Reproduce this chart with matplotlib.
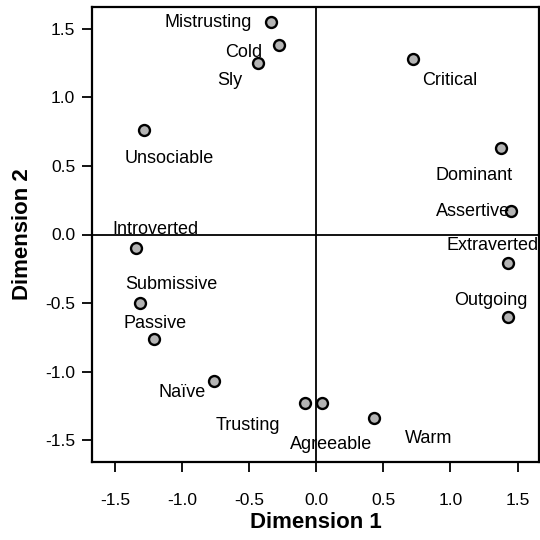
import matplotlib
matplotlib.use("Agg")
import matplotlib.pyplot as plt

plt.rcParams['font.family'] = ['Liberation Sans', 'DejaVu Sans']

# traits and their coordinates on the two dimensions
traits = ["Mistrusting", "Cold", "Sly", "Critical", "Unsociable", "Dominant",
          "Assertive", "Introverted", "Extraverted", "Submissive", "Outgoing",
          "Passive", "Naïve", "Trusting", "Agreeable", "Warm"]
dim1 = [-0.34, -0.28, -0.43, 0.72, -1.28, 1.38, 1.45, -1.34, 1.43, -1.31,
        1.43, -1.21, -0.76, -0.08, 0.04, 0.43]
dim2 = [1.55, 1.38, 1.25, 1.28, 0.76, 0.63, 0.175, -0.095, -0.21, -0.50,
        -0.60, -0.76, -1.07, -1.23, -1.23, -1.34]
ticks = [-1.5, -1.0, -0.5, 0.0, 0.5, 1.0, 1.5]

# label offsets from the dot, in pixels (x right, y up)
offs = [(-62, 0), (-35, -7), (-29, -17), (37, -21), (25, -28), (-27, -27),
        (-38, -1), (19, 18), (-16, 18), (31, 19), (-17, 16), (1, 15),
        (-32, -11), (-58, -22), (10, -41), (55, -20)]

fig = plt.figure(figsize=(5.4, 5.4), dpi=100)
ax = fig.add_axes([92/540, 1-462/540, (539-92)/540, (462-7)/540])

ax.axhline(0, color='black', lw=1.3, zorder=1)
ax.axvline(0, color='black', lw=1.3, zorder=1)
ax.scatter(dim1, dim2, s=62, c='#b4b4b4', edgecolors='black', linewidths=1.7, zorder=3)

for t, x, y, (dx, dy) in zip(traits, dim1, dim2, offs):
    ax.annotate(t, (x, y), xytext=(dx*0.72, dy*0.72), textcoords='offset points',
                ha='center', va='center', fontsize=13, zorder=4)

ax.set_xlim(-1.67, 1.66)
ax.set_ylim(-1.66, 1.66)
ax.set_xticks(ticks)
ax.set_yticks(ticks)
ax.set_xticklabels([f"{t:.1f}" for t in ticks])
ax.set_yticklabels([f"{t:.1f}" for t in ticks])
ax.tick_params(direction='out', length=7, width=1.3, labelsize=12.5)
ax.tick_params(axis='x', pad=15)
ax.tick_params(axis='y', pad=5)
for s in ax.spines.values():
    s.set_linewidth(1.6)

ax.set_xlabel("Dimension 1", fontsize=16, fontweight='bold', labelpad=3)
ax.set_ylabel("Dimension 2", fontsize=16, fontweight='bold', labelpad=9)

fig.savefig("out.png", dpi=100)
